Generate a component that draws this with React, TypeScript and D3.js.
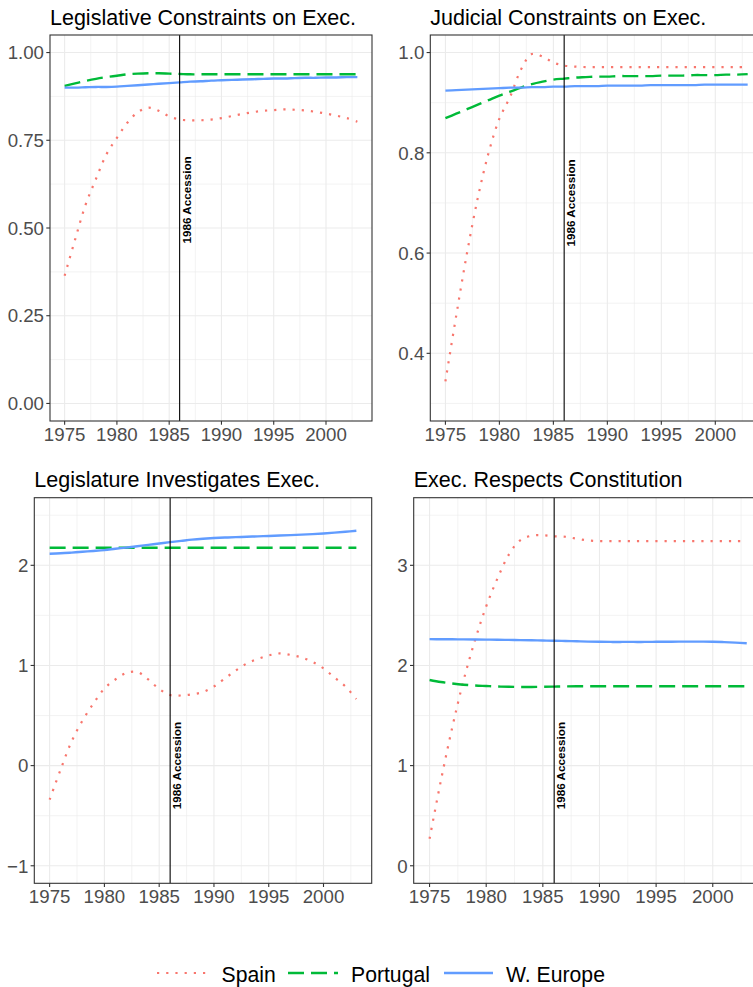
import React from "react";
import * as d3 from "d3";

// ---------- data ----------
const years = [1975,1976,1977,1978,1979,1980,1981,1982,1983,1984,1985,1986,1987,1988,1989,1990,1991,1992,1993,1994,1995,1996,1997,1998,1999,2000,2001,2002,2003];

const titles = [
  "Legislative Constraints on Exec.",
  "Judicial Constraints on Exec.",
  "Legislature Investigates Exec.",
  "Exec. Respects Constitution",
];

const seriesNames = ["Spain", "Portugal", "W. Europe"];
const accessionYear = 1986;
const accessionLabel = "1986 Accession";

// Panel 1: Legislative Constraints
const legConSpain = [0.364,0.467,0.566,0.640,0.710,0.757,0.800,0.830,0.843,0.834,0.818,0.809,0.807,0.807,0.809,0.813,0.819,0.825,0.830,0.834,0.836,0.838,0.837,0.835,0.831,0.826,0.820,0.813,0.803];
const legConPortugal = [0.905,0.912,0.919,0.925,0.930,0.934,0.938,0.940,0.941,0.941,0.940,0.939,0.938,0.938,0.938,0.938,0.938,0.938,0.938,0.938,0.938,0.938,0.938,0.938,0.938,0.938,0.938,0.938,0.938];
const legConWEurope = [0.900,0.900,0.901,0.902,0.902,0.903,0.905,0.907,0.909,0.911,0.913,0.915,0.917,0.918,0.920,0.921,0.922,0.923,0.924,0.925,0.926,0.926,0.927,0.928,0.928,0.929,0.929,0.930,0.930];

// Panel 2: Judicial Constraints
const judConSpain = [0.344,0.475,0.600,0.710,0.800,0.868,0.912,0.966,0.997,0.992,0.980,0.974,0.972,0.971,0.971,0.971,0.971,0.971,0.971,0.971,0.971,0.971,0.971,0.971,0.971,0.971,0.971,0.971,0.971];
const judConPortugal = [0.869,0.878,0.887,0.896,0.905,0.914,0.922,0.930,0.937,0.942,0.946,0.948,0.950,0.951,0.952,0.952,0.953,0.953,0.953,0.953,0.954,0.954,0.954,0.955,0.955,0.955,0.956,0.956,0.957];
const judConWEurope = [0.924,0.925,0.926,0.927,0.928,0.929,0.930,0.930,0.931,0.931,0.932,0.932,0.933,0.933,0.933,0.934,0.934,0.934,0.934,0.935,0.935,0.935,0.935,0.935,0.936,0.936,0.936,0.936,0.936];

// Panel 3: Legislature Investigates
const legInvSpain = [-0.34,-0.04,0.24,0.45,0.62,0.77,0.86,0.925,0.935,0.86,0.765,0.705,0.70,0.712,0.735,0.79,0.87,0.95,1.02,1.065,1.10,1.12,1.105,1.08,1.035,0.97,0.88,0.79,0.665];
const legInvPortugal = [2.176,2.176,2.176,2.176,2.176,2.176,2.176,2.176,2.176,2.176,2.176,2.176,2.176,2.176,2.176,2.176,2.176,2.176,2.176,2.176,2.176,2.176,2.176,2.176,2.176,2.176,2.176,2.176,2.176];
const legInvWEurope = [2.116,2.120,2.127,2.135,2.143,2.152,2.165,2.177,2.190,2.204,2.218,2.232,2.244,2.256,2.265,2.272,2.277,2.281,2.285,2.289,2.293,2.297,2.301,2.306,2.311,2.318,2.326,2.335,2.345];

// Panel 4: Exec Respects Constitution
const execRespSpain = [0.27,0.85,1.38,1.85,2.247,2.59,2.87,3.106,3.25,3.295,3.30,3.29,3.285,3.265,3.248,3.242,3.242,3.242,3.242,3.242,3.242,3.242,3.242,3.242,3.242,3.242,3.242,3.242,3.242];
const execRespPortugal = [1.855,1.835,1.820,1.808,1.800,1.795,1.790,1.787,1.785,1.785,1.787,1.789,1.791,1.792,1.792,1.792,1.792,1.792,1.792,1.792,1.792,1.792,1.792,1.792,1.792,1.792,1.792,1.792,1.792];
const execRespWEurope = [2.263,2.262,2.261,2.260,2.259,2.258,2.257,2.255,2.253,2.251,2.249,2.247,2.244,2.241,2.238,2.236,2.235,2.235,2.235,2.235,2.236,2.237,2.238,2.238,2.238,2.237,2.233,2.228,2.222];

// tick labels
const xTicks = [1975, 1980, 1985, 1990, 1995, 2000];
const yTicks1 = [0, 0.25, 0.5, 0.75, 1.0];
const yTickLabels1 = ["0.00", "0.25", "0.50", "0.75", "1.00"];
const yTicks2 = [0.4, 0.6, 0.8, 1.0];
const yTickLabels2 = ["0.4", "0.6", "0.8", "1.0"];
const yTicks3 = [-1, 0, 1, 2];
const yTickLabels3 = ["\u22121", "0", "1", "2"];
const yTicks4 = [0, 1, 2, 3];
const yTickLabels4 = ["0", "1", "2", "3"];

// y limits before expansion
const yLimits1 = [0, 1];
const yLimits2 = [0.3, 1.0];
const yLimits3 = [-1, 2.5];
const yLimits4 = [0, 3.5];
const annotY = [0.58, 0.70, 0.0, 1.0];

// ---------- styles / layout ----------
const colors = ["#F8766D", "#00BA38", "#619CFF"];
const dashes = ["2.2 7", "16 7", null];
const FONT = "'Liberation Sans', Arial, Helvetica, sans-serif";

const rects = [
  { l: 50, r: 372, t: 35, b: 421 },
  { l: 430.3, r: 762.8, t: 35, b: 421 },
  { l: 34.3, r: 371.7, t: 497.7, b: 883.3 },
  { l: 413.7, r: 762.6, t: 497.7, b: 883.3 },
];
const titleBaselines = [25, 25, 486.7, 486.7];

const panelData = [
  { s: [legConSpain, legConPortugal, legConWEurope], yt: yTicks1, yl: yTickLabels1, lim: yLimits1 },
  { s: [judConSpain, judConPortugal, judConWEurope], yt: yTicks2, yl: yTickLabels2, lim: yLimits2 },
  { s: [legInvSpain, legInvPortugal, legInvWEurope], yt: yTicks3, yl: yTickLabels3, lim: yLimits3 },
  { s: [execRespSpain, execRespPortugal, execRespWEurope], yt: yTicks4, yl: yTickLabels4, lim: yLimits4 },
];

function expand(lim: number[]) {
  const d = (lim[1] - lim[0]) * 0.05;
  return [lim[0] - d, lim[1] + d];
}

function Panel({ i }: { i: number }) {
  const r = rects[i];
  const pd = panelData[i];
  const xr = d3.extent(years) as number[];
  const xd = expand(xr);
  const x = d3.scaleLinear().domain(xd).range([r.l, r.r]);
  const y = d3.scaleLinear().domain(expand(pd.lim)).range([r.b, r.t]);
  const step = pd.yt[1] - pd.yt[0];
  const yMinor: number[] = [];
  for (let k = -1; k < pd.yt.length; k++) {
    const v = pd.yt[0] + step * (k + 0.5);
    const [a, b] = y.domain();
    if (v > a && v < b) yMinor.push(v);
  }
  const xMinor: number[] = [];
  for (let k = -1; k < xTicks.length; k++) {
    const v = xTicks[0] + 5 * (k + 0.5);
    if (v > xd[0] && v < xd[1]) xMinor.push(v);
  }
  const line = d3
    .line<number>()
    .x((_, j) => x(years[j]))
    .y((d) => y(d))
    .curve(d3.curveCatmullRom.alpha(0.5));
  const ax = x(accessionYear);
  return (
    <g>
      <text x={r.l} y={titleBaselines[i]} fontSize={21.5} fontFamily={FONT} fill="#000">
        {titles[i]}
      </text>
      {/* minor grid */}
      {yMinor.map((v) => (
        <line key={"ym" + v} x1={r.l} x2={r.r} y1={y(v)} y2={y(v)} stroke="#EBEBEB" strokeWidth={0.6} />
      ))}
      {xMinor.map((v) => (
        <line key={"xm" + v} y1={r.t} y2={r.b} x1={x(v)} x2={x(v)} stroke="#EBEBEB" strokeWidth={0.6} />
      ))}
      {/* major grid */}
      {pd.yt.map((v) => (
        <line key={"yg" + v} x1={r.l} x2={r.r} y1={y(v)} y2={y(v)} stroke="#EBEBEB" strokeWidth={1.1} />
      ))}
      {xTicks.map((v) => (
        <line key={"xg" + v} y1={r.t} y2={r.b} x1={x(v)} x2={x(v)} stroke="#EBEBEB" strokeWidth={1.1} />
      ))}
      {/* series */}
      {pd.s.map((vals, k) => (
        <path
          key={"s" + k}
          d={line(vals) || ""}
          fill="none"
          stroke={colors[k]}
          strokeWidth={k === 0 ? 2.2 : 2.4}
          strokeDasharray={dashes[k] || undefined}
          strokeLinecap="butt"
        />
      ))}
      {/* accession line */}
      <line x1={ax} x2={ax} y1={r.t} y2={r.b} stroke="#000" strokeWidth={1.1} />
      <text
        transform={`translate(${ax + 11},${y(annotY[i])}) rotate(-90)`}
        textAnchor="middle"
        fontSize={11.7}
        fontWeight="bold"
        fontFamily={FONT}
        fill="#000"
      >
        {accessionLabel}
      </text>
      {/* border */}
      <rect x={r.l} y={r.t} width={r.r - r.l} height={r.b - r.t} fill="none" stroke="#333333" strokeWidth={1.1} />
      {/* y axis */}
      {pd.yt.map((v, k) => (
        <g key={"yt" + v}>
          <line x1={r.l - 3.7} x2={r.l} y1={y(v)} y2={y(v)} stroke="#333333" strokeWidth={1.1} />
          <text
            x={r.l - 6}
            y={y(v)}
            dy="0.36em"
            textAnchor="end"
            fontSize={18.7}
            fontFamily={FONT}
            fill="#4D4D4D"
          >
            {pd.yl[k]}
          </text>
        </g>
      ))}
      {/* x axis */}
      {xTicks.map((v) => (
        <g key={"xt" + v}>
          <line x1={x(v)} x2={x(v)} y1={r.b} y2={r.b + 3.7} stroke="#333333" strokeWidth={1.1} />
          <text x={x(v)} y={r.b + 20} textAnchor="middle" fontSize={18.7} fontFamily={FONT} fill="#4D4D4D">
            {v}
          </text>
        </g>
      ))}
    </g>
  );
}

const legendKeys = [
  { x1: 157, x2: 208, tx: 221.5 },
  { x1: 288, x2: 338, tx: 351 },
  { x1: 444, x2: 493, tx: 506 },
];

export default function App() {
  return (
    <svg
      width={753}
      height={987}
      style={{ position: "absolute", left: 0, top: 0, background: "#fff" }}
    >
      <rect x={0} y={0} width={753} height={987} fill="#fff" />
      {[0, 1, 2, 3].map((i) => (
        <Panel key={i} i={i} />
      ))}
      {seriesNames.map((n, k) => (
        <g key={n}>
          <line
            x1={legendKeys[k].x1}
            x2={legendKeys[k].x2}
            y1={973}
            y2={973}
            stroke={colors[k]}
            strokeWidth={k === 0 ? 2.2 : 2.4}
            strokeDasharray={dashes[k] || undefined}
          />
          <text x={legendKeys[k].tx} y={981.5} fontSize={21.2} fontFamily={FONT} fill="#000">
            {n}
          </text>
        </g>
      ))}
    </svg>
  );
}
